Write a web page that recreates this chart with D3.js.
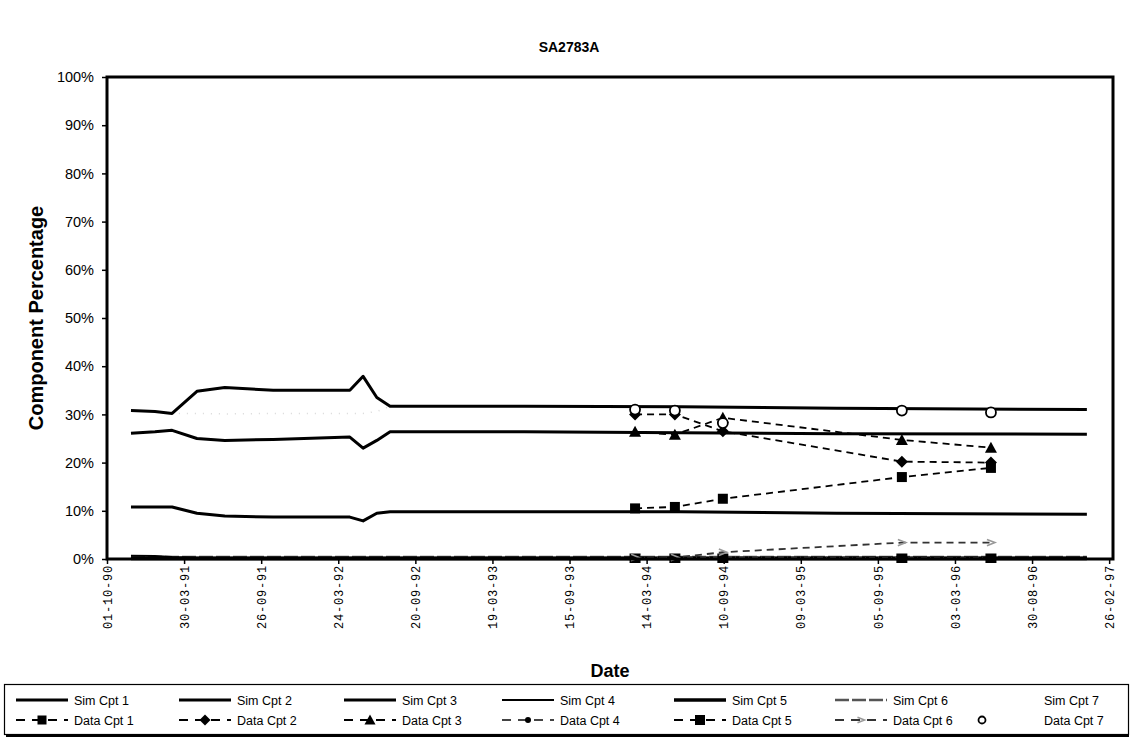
<!DOCTYPE html>
<html>
<head>
<meta charset="utf-8">
<script src="https://cdn.jsdelivr.net/npm/d3@7"></script>
<style>
  body { margin: 0; background: #fff; }
  svg { display: block; }
</style>
</head>
<body>
<svg id="chart" width="1132" height="749"></svg>
<script>
// Simulated component fractions (%), sampled at these dates
const simDates = ["1990-11-26","1991-01-21","1991-03-02","1991-04-29","1991-07-03","1991-10-24",
                  "1992-04-20","1992-05-21","1992-06-22","1992-07-23","1993-06-01","1994-06-01",
                  "1995-06-01","1997-01-05"];
const simCpt1 = [30.8, 30.6, 30.2, 34.8, 35.6, 35.0, 35.0, 37.9, 33.5, 31.7, 31.7, 31.6, 31.3, 31.0];
const simCpt2 = [26.1, 26.4, 26.7, 25.0, 24.6, 24.8, 25.3, 23.0, 24.6, 26.4, 26.4, 26.2, 26.0, 25.9];
const simCpt3 = [10.8, 10.8, 10.8, 9.5, 8.9, 8.7, 8.7, 7.9, 9.5, 9.8, 9.8, 9.8, 9.5, 9.3];
const simCpt4 = [0.7, 0.6, 0.4, 0.3, 0.3, 0.3, 0.3, 0.3, 0.3, 0.3, 0.3, 0.3, 0.3, 0.3];
const simCpt5 = [0.1, 0.1, 0.1, 0.1, 0.1, 0.1, 0.1, 0.1, 0.1, 0.1, 0.1, 0.1, 0.1, 0.1];
const simCpt6 = [0.4, 0.4, 0.4, 0.4, 0.4, 0.4, 0.4, 0.4, 0.4, 0.4, 0.4, 0.4, 0.4, 0.4];
const simCpt7 = [30.8, 30.6, 30.2, 30.2, 30.1, 30.2, 30.2, 30.2, 30.6, 31.7, 31.7, 31.6, 31.3, 31.0];

// Measured component fractions (%)
const dataDates = ["1994-02-15","1994-05-19","1994-09-08","1995-10-31","1996-05-26"];
const dataCpt1 = [10.5, 10.8, 12.5, 17.0, 18.9];
const dataCpt2 = [30.0, 30.0, 26.5, 20.2, 20.0];
const dataCpt3 = [26.4, 25.8, 29.3, 24.7, 23.1];
const dataCpt4 = [0.3, 0.3, 0.4, 0.2, 0.2];
const dataCpt5 = [0.0, 0.0, 0.0, 0.0, 0.0];
const dataCpt6 = [0.3, 0.3, 1.4, 3.4, 3.4];
const dataCpt7 = [31.0, 30.8, 28.2, 30.8, 30.4];

// Axis ticks
const xTickDates = ["1990-10-01","1991-03-30","1991-09-26","1992-03-24","1992-09-20","1993-03-19",
                    "1993-09-15","1994-03-14","1994-09-10","1995-03-09","1995-09-05","1996-03-03",
                    "1996-08-30","1997-02-26"];
const yTickValues = [0, 10, 20, 30, 40, 50, 60, 70, 80, 90, 100];

const chartTitle = "SA2783A";
const xTitle = "Date";
const yTitle = "Component Percentage";

const parse = d3.timeParse("%Y-%m-%d");
const svg = d3.select("#chart");

const plot = { left: 107, right: 1113, top: 77, bottom: 559 };

const x = d3.scaleTime()
  .domain([parse("1990-10-01"), parse("1997-03-07")])
  .range([plot.left, plot.right]);
const y = d3.scaleLinear()
  .domain([0, 100])
  .range([plot.bottom, plot.top]);

const sansFont = "'Liberation Sans', Arial, sans-serif";
const monoFont = "'Liberation Mono', 'DejaVu Sans Mono', monospace";

// Title
svg.append("text")
  .attr("x", 569).attr("y", 52)
  .attr("text-anchor", "middle")
  .attr("font-family", sansFont).attr("font-weight", "bold").attr("font-size", 14)
  .text(chartTitle);

// Series definitions
const simSeries = [
  { name: "Sim Cpt 1", values: simCpt1, stroke: "#000", width: 3,   dash: null },
  { name: "Sim Cpt 2", values: simCpt2, stroke: "#000", width: 3,   dash: null },
  { name: "Sim Cpt 3", values: simCpt3, stroke: "#000", width: 3,   dash: null },
  { name: "Sim Cpt 4", values: simCpt4, stroke: "#000", width: 2,   dash: null },
  { name: "Sim Cpt 5", values: simCpt5, stroke: "#000", width: 3.5, dash: null },
  { name: "Sim Cpt 6", values: simCpt6, stroke: "#555", width: 2.5, dash: "14,3" },
  { name: "Sim Cpt 7", values: simCpt7, stroke: "#d8d8d8", width: 1.5, dash: "1,7" }
];

const dataSeries = [
  { name: "Data Cpt 1", values: dataCpt1, marker: "square",   stroke: "#000", dash: "7,5",   mfill: "#000", size: 10 },
  { name: "Data Cpt 2", values: dataCpt2, marker: "diamond",  stroke: "#000", dash: "7,5",   mfill: "#000", size: 10 },
  { name: "Data Cpt 3", values: dataCpt3, marker: "triangle", stroke: "#000", dash: "7,5",   mfill: "#000", size: 10 },
  { name: "Data Cpt 4", values: dataCpt4, marker: "circle",   stroke: "#444", dash: "6,3,1,3", mfill: "#bbb", size: 7 },
  { name: "Data Cpt 5", values: dataCpt5, marker: "square",   stroke: "#000", dash: "7,5",   mfill: "#000", size: 11 },
  { name: "Data Cpt 6", values: dataCpt6, marker: "chevron",  stroke: "#333", dash: "7,5",   mfill: "#999", size: 8 },
  { name: "Data Cpt 7", values: dataCpt7, marker: "open",     stroke: null,   dash: null,    mfill: "#fff", size: 10 }
];

function drawMarker(g, type, cx, cy, size, fill) {
  const h = size / 2;
  if (type === "square") {
    g.append("rect").attr("x", cx - h).attr("y", cy - h).attr("width", size).attr("height", size)
      .attr("fill", fill);
  } else if (type === "diamond") {
    g.append("path").attr("d", `M${cx},${cy - h - 1}L${cx + h + 1},${cy}L${cx},${cy + h + 1}L${cx - h - 1},${cy}Z`)
      .attr("fill", fill);
  } else if (type === "triangle") {
    g.append("path").attr("d", `M${cx},${cy - h - 1}L${cx + h + 1},${cy + h}L${cx - h - 1},${cy + h}Z`)
      .attr("fill", fill);
  } else if (type === "circle") {
    g.append("circle").attr("cx", cx).attr("cy", cy).attr("r", h).attr("fill", fill);
  } else if (type === "chevron") {
    g.append("path").attr("d", `M${cx - h},${cy - h * 0.8}L${cx + h},${cy}L${cx - h},${cy + h * 0.8}`)
      .attr("fill", "none").attr("stroke", fill).attr("stroke-width", 1.6);
  } else if (type === "open") {
    g.append("circle").attr("cx", cx).attr("cy", cy).attr("r", h)
      .attr("fill", "#fff").attr("stroke", "#000").attr("stroke-width", 1.8);
  }
}

// Clip marks to the plot area
svg.append("clipPath").attr("id", "plotClip")
  .append("rect").attr("x", plot.left).attr("y", plot.top - 10)
  .attr("width", plot.right - plot.left).attr("height", plot.bottom - plot.top + 14);

const marks = svg.append("g").attr("clip-path", "url(#plotClip)");

// Simulation lines (light ones first so dark ones sit on top)
const simLine = d3.line()
  .x((d, i) => x(parse(simDates[i])))
  .y(d => y(d))
  .curve(d3.curveLinear);

const simOrder = [6, 5, 3, 4, 2, 1, 0];
simOrder.forEach(k => {
  const s = simSeries[k];
  marks.append("path")
    .datum(s.values)
    .attr("d", simLine)
    .attr("fill", "none")
    .attr("stroke", s.stroke)
    .attr("stroke-width", s.width)
    .attr("stroke-linejoin", "round")
    .attr("stroke-dasharray", s.dash);
});

// Measured data: dashed connectors then markers
const dataLine = d3.line()
  .x((d, i) => x(parse(dataDates[i])))
  .y(d => y(d));

dataSeries.forEach(s => {
  if (s.stroke) {
    marks.append("path")
      .datum(s.values)
      .attr("d", dataLine)
      .attr("fill", "none")
      .attr("stroke", s.stroke)
      .attr("stroke-width", 1.8)
      .attr("stroke-dasharray", s.dash);
  }
});
dataSeries.forEach(s => {
  const g = marks.append("g");
  s.values.forEach((v, i) => {
    drawMarker(g, s.marker, x(parse(dataDates[i])), y(v), s.size, s.mfill);
  });
});

// Plot frame
svg.append("rect")
  .attr("x", plot.left).attr("y", plot.top)
  .attr("width", plot.right - plot.left).attr("height", plot.bottom - plot.top)
  .attr("fill", "none").attr("stroke", "#000").attr("stroke-width", 3);

// Y axis
const yAxis = d3.axisLeft(y)
  .tickValues(yTickValues)
  .tickFormat(d => d + "%")
  .tickSize(5)
  .tickPadding(8);
const yg = svg.append("g").attr("transform", `translate(${plot.left},0)`).call(yAxis);
yg.select(".domain").remove();
yg.selectAll(".tick line").attr("stroke", "#000").attr("stroke-width", 1.5);
yg.selectAll(".tick text")
  .attr("font-family", sansFont).attr("font-size", 14.5).attr("fill", "#000");

// X axis with rotated date labels
const xAxis = d3.axisBottom(x)
  .tickValues(xTickDates.map(parse))
  .tickFormat(d3.timeFormat("%d-%m-%y"))
  .tickSize(5);
const xg = svg.append("g").attr("transform", `translate(0,${plot.bottom})`).call(xAxis);
xg.select(".domain").remove();
xg.selectAll(".tick line").attr("stroke", "#000").attr("stroke-width", 1.5);
xg.selectAll(".tick text")
  .attr("font-family", monoFont).attr("font-size", 12).attr("fill", "#000")
  .attr("letter-spacing", 0.8)
  .attr("text-anchor", "end")
  .attr("transform", "rotate(-90)")
  .attr("x", -6).attr("y", 0).attr("dy", "0.35em");

// Axis titles
svg.append("text")
  .attr("x", (plot.left + plot.right) / 2).attr("y", 677)
  .attr("text-anchor", "middle")
  .attr("font-family", sansFont).attr("font-weight", "bold").attr("font-size", 18)
  .text(xTitle);

svg.append("text")
  .attr("transform", `translate(43,${(plot.top + plot.bottom) / 2}) rotate(-90)`)
  .attr("text-anchor", "middle")
  .attr("font-family", sansFont).attr("font-weight", "bold").attr("font-size", 20)
  .text(yTitle);

// Legend
const legend = svg.append("g");
legend.append("rect")
  .attr("x", 4.5).attr("y", 684.5).attr("width", 1124).attr("height", 50)
  .attr("fill", "#fff").attr("stroke", "#000").attr("stroke-width", 1.2);
legend.append("line")
  .attr("x1", 6).attr("x2", 1129).attr("y1", 736).attr("y2", 736)
  .attr("stroke", "#000").attr("stroke-width", 2);

const colStart = [16, 179, 344, 502, 674, 835, 943];
const row1 = 700, row2 = 720;
simSeries.forEach((s, i) => {
  const lx = colStart[i];
  const tx = i === 6 ? 1044 : lx + 58;
  if (i < 6) {
    legend.append("line")
      .attr("x1", lx).attr("x2", lx + 52).attr("y1", row1).attr("y2", row1)
      .attr("stroke", s.stroke).attr("stroke-width", s.width)
      .attr("stroke-dasharray", s.dash);
  }
  legend.append("text")
    .attr("x", tx).attr("y", row1 + 4.5)
    .attr("font-family", sansFont).attr("font-size", 12.5)
    .text(s.name);
});
dataSeries.forEach((s, i) => {
  const lx = colStart[i];
  const tx = i === 6 ? 1044 : lx + 58;
  const g = legend.append("g");
  if (s.stroke) {
    g.append("line")
      .attr("x1", lx).attr("x2", lx + 52).attr("y1", row2).attr("y2", row2)
      .attr("stroke", s.stroke).attr("stroke-width", 1.8)
      .attr("stroke-dasharray", "9,7");
    drawMarker(g, s.marker, lx + 26, row2, s.size - 1, s.mfill === "#bbb" ? "#000" : s.mfill);
  } else {
    drawMarker(g, s.marker, 982, row2, 7, s.mfill);
  }
  legend.append("text")
    .attr("x", tx).attr("y", row2 + 4.5)
    .attr("font-family", sansFont).attr("font-size", 12.5)
    .text(s.name);
});
</script>
</body>
</html>
